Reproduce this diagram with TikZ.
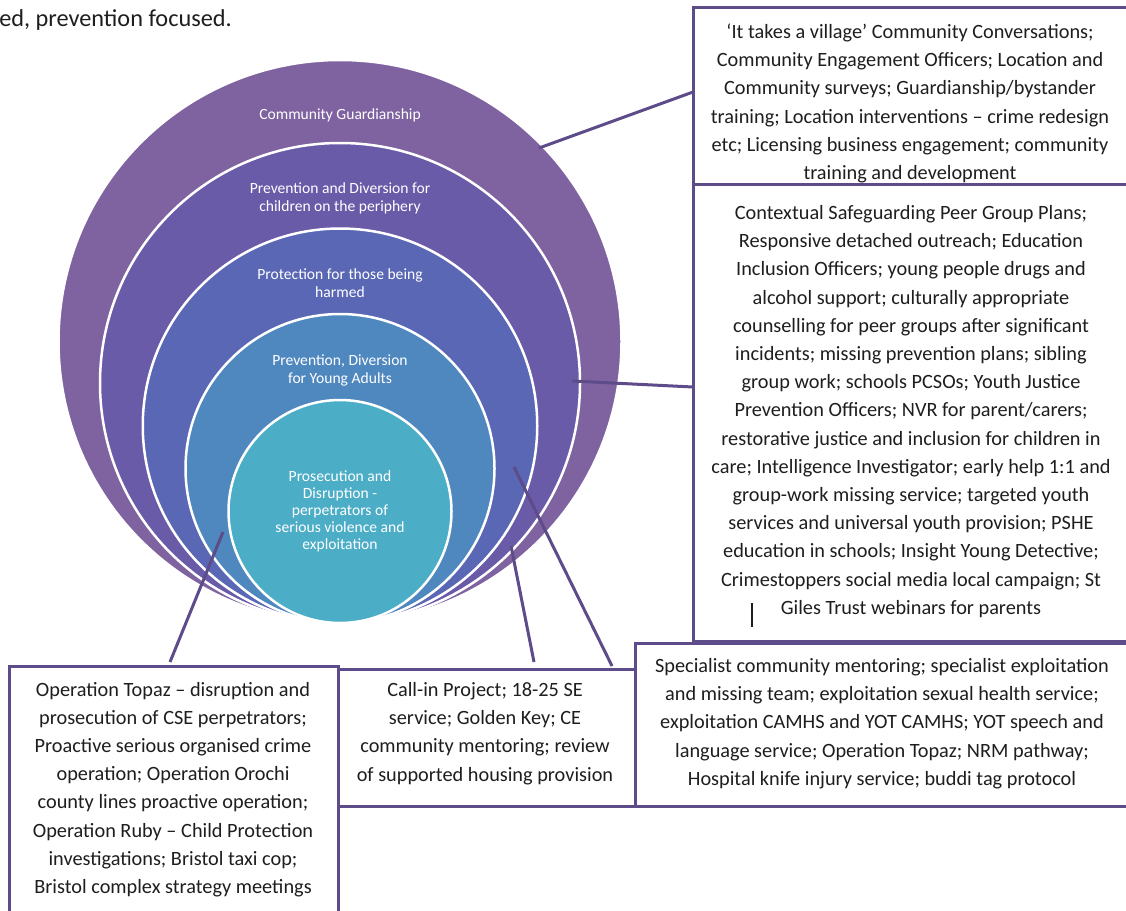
\documentclass[tikz,border=0pt]{standalone}
\usepackage{fontspec}
\setmainfont{Carlito}
\definecolor{boxpurple}{HTML}{5E4B8A}
\definecolor{textdark}{HTML}{1E1E1E}
\definecolor{cA}{HTML}{7F63A0}
\definecolor{cB}{HTML}{6A5BA9}
\definecolor{cC}{HTML}{5967B4}
\definecolor{cD}{HTML}{4F87BF}
\definecolor{cE}{HTML}{4BADC6}
\tikzset{
  ring/.style={draw=white, line width=2.5pt},
  ringtext/.style={text=white, align=center, font=\fontsize{15.6}{18}\selectfont, inner sep=0pt},
  boxline/.style={draw=boxpurple, line width=3pt},
  boxtext/.style={text=textdark, align=center, font=\fontsize{20.3}{28.2}\selectfont, inner sep=0pt},
  conn/.style={draw=boxpurple, line width=3pt},
}
\begin{document}
\begin{tikzpicture}[x=1pt,y=-1pt]
\useasboundingbox (0,0) rectangle (1126,910);
\fill[white] (0,0) rectangle (1126,910);
% top-left cut text
\node[anchor=base east, inner sep=0pt, text=textdark, font=\fontsize{24.3}{27}\selectfont] (intro) at (232,27) {ed, prevention focused.};
% nested circles
\path[ring, fill=cA] (340,341.5) circle[radius=281.5pt];
\path[ring, fill=cB] (340,383) circle[radius=240pt];
\path[ring, fill=cC] (340,425.75) circle[radius=197.25pt];
\path[ring, fill=cD] (340,468.5) circle[radius=154.5pt];
\path[ring, fill=cE] (340,511.5) circle[radius=111.5pt];
% ring labels
\node[ringtext] (l1) at (340,115) {Community Guardianship};
\node[ringtext] (l2) at (340,198) {Prevention and Diversion for\\children on the periphery};
\node[ringtext] (l3) at (340,283) {Protection for those being\\harmed};
\node[ringtext] (l4) at (340,370) {Prevention, Diversion\\for Young Adults};
\node[ringtext, font=\fontsize{15.6}{17}\selectfont] (l5) at (340,511) {Prosecution and\\Disruption -\\perpetrators of\\serious violence and\\exploitation};
% boxes
\draw[boxline] (693,7) rectangle (1129,184);
\draw[boxline] (693,184) rectangle (1129,641);
\draw[boxline] (635,643) rectangle (1129,806);
\draw[boxline] (338,669) rectangle (635,806);
\draw[boxline] (9,666) rectangle (338,915);
% box texts
\node[boxtext] (t1) at (910,103.5) {‘It takes a village’ Community Conversations;\\Community Engagement Officers; Location and\\Community surveys; Guardianship/bystander\\training; Location interventions – crime redesign\\etc; Licensing business engagement; community\\training and development};
\node[boxtext] (t2) at (911,411.5) {Contextual Safeguarding Peer Group Plans;\\Responsive detached outreach; Education\\Inclusion Officers; young people drugs and\\alcohol support; culturally appropriate\\counselling for peer groups after significant\\incidents; missing prevention plans; sibling\\group work; schools PCSOs; Youth Justice\\Prevention Officers; NVR for parent/carers;\\restorative justice and inclusion for children in\\care; Intelligence Investigator; early help 1:1 and\\group-work missing service; targeted youth\\services and universal youth provision; PSHE\\education in schools; Insight Young Detective;\\Crimestoppers social media local campaign; St\\Giles Trust webinars for parents};
\node[boxtext] (t3) at (882,723.5) {Specialist community mentoring; specialist exploitation\\and missing team; exploitation sexual health service;\\exploitation CAMHS and YOT CAMHS; YOT speech and\\language service; Operation Topaz; NRM pathway;\\Hospital knife injury service; buddi tag protocol};
\node[boxtext] (t4) at (485,733.5) {Call-in Project; 18-25 SE\\service; Golden Key; CE\\community mentoring; review\\of supported housing provision};
\node[boxtext] (t5) at (173,789.5) {Operation Topaz – disruption and\\prosecution of CSE perpetrators;\\Proactive serious organised crime\\operation; Operation Orochi\\county lines proactive operation;\\Operation Ruby – Child Protection\\investigations; Bristol taxi cop;\\Bristol complex strategy meetings};
% small stray mark
\draw[line width=1.2pt, textdark] (752,603) -- (752,627);
% connector endpoints
\coordinate (s1) at (539,148);
\coordinate (e1) at (693,92);
\coordinate (s2) at (572,381);
\coordinate (e2) at (693,387);
\coordinate (s3) at (223,532);
\coordinate (e3) at (170,662);
\coordinate (s4) at (511,546);
\coordinate (e4) at (534,662);
\coordinate (s5) at (514,467);
\coordinate (e5) at (612,666);
\draw[conn] (s1) -- (e1);
\draw[conn] (s2) -- (e2);
\draw[conn] (s3) -- (e3);
\draw[conn] (s4) -- (e4);
\draw[conn] (s5) -- (e5);
\end{tikzpicture}
\end{document}
